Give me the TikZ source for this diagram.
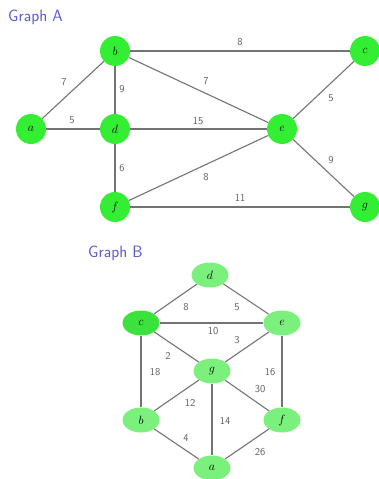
\documentclass[tikz,border=0pt]{standalone}
\usetikzlibrary{shapes.geometric}
\definecolor{titleblue}{RGB}{90,90,200}
\definecolor{nodeA}{RGB}{51,238,51}
\definecolor{nodeBdark}{RGB}{60,226,60}
\definecolor{nodeB}{RGB}{124,240,124}
\definecolor{edgegray}{RGB}{115,115,115}
\definecolor{labgray}{RGB}{95,95,95}
\begin{document}
\begin{tikzpicture}[x=1pt,y=-1pt,
  vA/.style={circle,fill=nodeA,minimum size=30pt,inner sep=0pt,font=\fontsize{12}{13}\selectfont},
  vB/.style={ellipse,fill=nodeB,minimum width=37pt,minimum height=25pt,inner sep=0pt,font=\fontsize{12}{13}\selectfont},
  ed/.style={draw=edgegray,line width=1.1pt},
  wl/.style={font=\sffamily\fontsize{10.5}{12}\selectfont,text=labgray,inner sep=1pt},
  ttl/.style={font=\sffamily\fontsize{16.5}{18}\selectfont,text=titleblue,anchor=west,inner sep=0pt}]
\useasboundingbox (0,0) rectangle (378,479);
\node[ttl] (tA) at (8,17) {Graph A};
\node[vA] (b) at (115,51) {$b$};
\node[vA] (c) at (365,51) {$c$};
\node[vA] (a) at (31,129) {$a$};
\node[vA] (d) at (115,129) {$d$};
\node[vA] (e) at (282,129) {$e$};
\node[vA] (f) at (115,207) {$f$};
\node[vA] (g) at (365,207) {$g$};
\draw[ed] (b) -- (c);
\draw[ed] (a) -- (b);
\draw[ed] (b) -- (d);
\draw[ed] (a) -- (d);
\draw[ed] (d) -- (e);
\draw[ed] (b) -- (e);
\draw[ed] (c) -- (e);
\draw[ed] (d) -- (f);
\draw[ed] (f) -- (e);
\draw[ed] (e) -- (g);
\draw[ed] (f) -- (g);
\node[wl] (l1) at (240,42) {8};
\node[wl] (l2) at (64,82) {7};
\node[wl] (l3) at (122,89) {9};
\node[wl] (l4) at (72,120) {5};
\node[wl] (l5) at (198,121) {15};
\node[wl] (l6) at (206,81) {7};
\node[wl] (l7) at (331,98) {5};
\node[wl] (l8) at (122,168) {6};
\node[wl] (l9) at (206,177) {8};
\node[wl] (l10) at (331,160) {9};
\node[wl] (l11) at (240,198) {11};

\node[ttl] (tB) at (88,253) {Graph B};
\node[vB] (Bd) at (210,275) {$d$};
\node[vB,fill=nodeBdark] (Bc) at (141,323) {$c$};
\node[vB] (Be) at (282,323) {$e$};
\node[vB] (Bg) at (212,371) {$g$};
\node[vB] (Bb) at (141,420) {$b$};
\node[vB] (Bf) at (282,420) {$f$};
\node[vB] (Ba) at (212,468) {$a$};
\draw[ed] (Bc) -- (Bd);
\draw[ed] (Bd) -- (Be);
\draw[ed] (Bc) -- (Be);
\draw[ed] (Be) -- (Bg);
\draw[ed] (Bc) -- (Bg);
\draw[ed] (Bc) -- (Bb);
\draw[ed] (Be) -- (Bf);
\draw[ed] (Bg) -- (Bf);
\draw[ed] (Bg) -- (Bb);
\draw[ed] (Bg) -- (Ba);
\draw[ed] (Bb) -- (Ba);
\draw[ed] (Bf) -- (Ba);
\node[wl] (m1) at (186,307) {8};
\node[wl] (m2) at (237,307) {5};
\node[wl] (m3) at (213,331) {10};
\node[wl] (m4) at (237,340) {3};
\node[wl] (m5) at (168,356) {2};
\node[wl] (m6) at (155,372) {18};
\node[wl] (m7) at (270,372) {16};
\node[wl] (m8) at (260,389) {30};
\node[wl] (m9) at (190,403) {12};
\node[wl] (m10) at (225,421) {14};
\node[wl] (m11) at (186,438) {4};
\node[wl] (m12) at (260,452) {26};
\end{tikzpicture}
\end{document}
